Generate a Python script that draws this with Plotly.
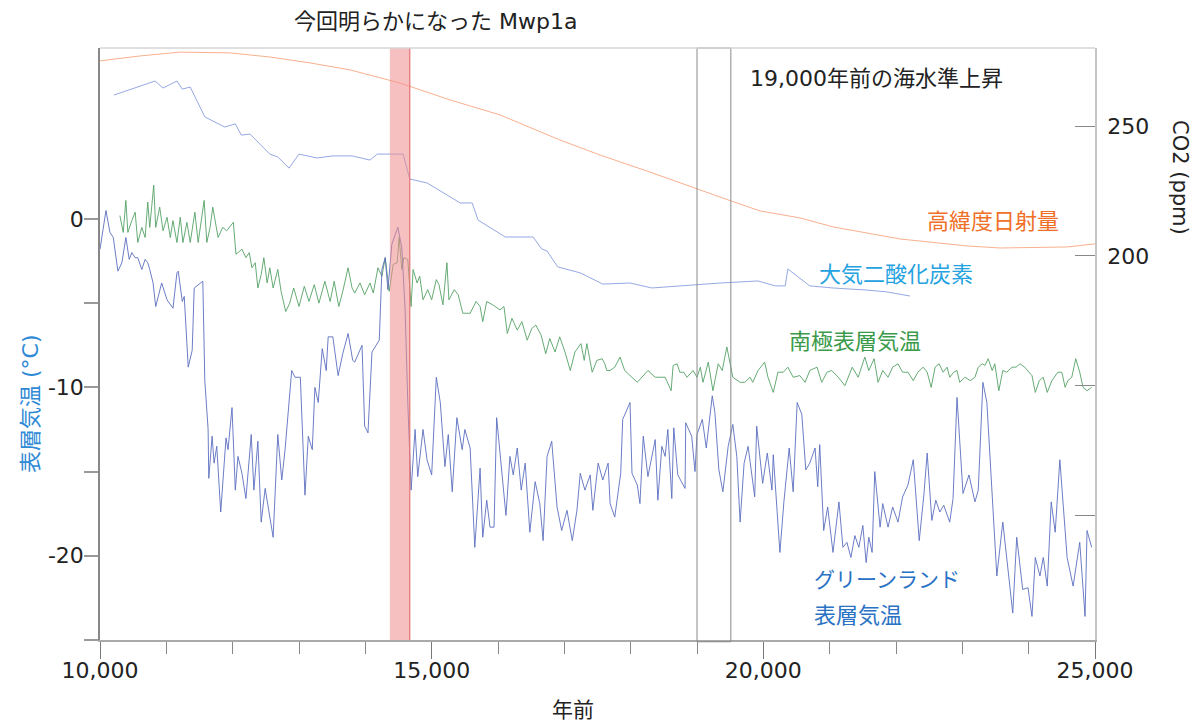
import plotly.graph_objects as go

# ---------------- data ----------------
# Greenland surface temperature (deg C) vs years before present
gl_year = [10000,10030,10090,10150,10200,10270,10330,10390,10440,10480,10530,10570,10630,10680,10720,10750,10800,10840,10930,11010,
           11100,11160,11180,11240,11270,11330,11390,11420,11550,11580,11630,11640,11690,11720,11760,11820,11900,11930,11990,12040,
           12080,12140,12200,12280,12320,12380,12430,12490,12530,12610,12680,12740,12790,12890,12940,13020,13090,13140,13200,13240,
           13290,13350,13410,13440,13510,13590,13660,13740,13810,13840,13950,13990,14040,14100,14210,14250,14300,14340,14400,14490,
           14550,14600,14640,14690,14750,14790,14870,14930,15000,15070,15130,15200,15250,15310,15380,15460,15500,15580,15650,15730,
           15770,15830,15880,15940,15980,16060,16120,16180,16230,16290,16350,16410,16480,16560,16630,16680,16740,16810,16890,16960,
           17040,17120,17190,17240,17310,17390,17430,17510,17580,17660,17690,17760,17810,17850,17880,17910,17990,18020,18100,18140,
           18190,18260,18370,18410,18470,18520,18560,18620,18650,18710,18820,18830,18920,18970,19000,19080,19140,19230,19270,19330,
           19390,19470,19540,19600,19650,19710,19770,19870,19900,19990,20060,20130,20150,20250,20310,20390,20450,20510,20580,20640,
           20700,20780,20820,20850,20910,20970,21050,21140,21200,21260,21320,21380,21440,21500,21550,21590,21640,21680,21760,21800,
           21880,21950,22030,22100,22180,22260,22350,22420,22470,22540,22600,22660,22720,22810,22860,22920,22960,23010,23100,23190,
           23240,23310,23370,23450,23520,23610,23670,23760,23820,23910,23990,24050,24100,24170,24220,24280,24340,24400,24470,24580,
           24670,24770,24850,24880,24950]
gl_temp = [-1.8,-1.1,0.5,-0.8,-1.1,-3.1,-2.6,-1.1,-2.4,-2.0,-2.3,-2.3,-3.0,-2.4,-2.6,-3.0,-3.8,-5.2,-3.8,-4.8,
           -5.3,-3.2,-3.1,-4.9,-4.6,-8.8,-7.8,-4.1,-3.7,-9.6,-12.5,-15.4,-12.9,-14.5,-13.5,-17.4,-13.0,-13.7,-11.2,-16.1,
           -14.1,-15.1,-16.6,-12.8,-16.1,-13.2,-18.0,-16.0,-16.9,-18.9,-12.8,-15.5,-13.7,-9.0,-9.4,-9.4,-16.4,-12.9,-13.7,-10.0,
           -10.9,-7.7,-9.0,-7.0,-7.0,-9.3,-8.0,-6.8,-8.4,-8.5,-7.5,-12.3,-12.7,-7.9,-7.2,-3.0,-2.3,-4.2,-1.5,-0.5,
           -1.7,-5.4,-10.9,-16.1,-12.5,-15.3,-12.5,-14.3,-15.2,-9.4,-10.9,-14.7,-12.8,-16.2,-11.8,-13.7,-12.5,-13.6,-19.5,-14.8,
           -18.9,-16.7,-18.3,-18.3,-11.8,-15.1,-17.6,-14.1,-15.2,-13.6,-16.1,-14.5,-18.6,-15.6,-16.9,-19.1,-14.1,-13.2,-17.1,-18.5,
           -17.3,-19.1,-17.3,-15.1,-16.1,-15.2,-17.3,-14.5,-15.5,-14.5,-16.9,-17.7,-16.1,-15.1,-11.9,-11.6,-10.9,-15.1,-15.8,-16.9,
           -12.9,-15.3,-13.1,-16.7,-13.5,-14.1,-12.5,-16.6,-12.4,-15.2,-16.0,-12.1,-12.9,-15.0,-12.8,-11.9,-13.6,-10.5,-11.5,-14.9,
           -16.2,-13.5,-12.2,-14.1,-18.0,-14.5,-13.5,-16.5,-12.3,-15.7,-13.9,-16.1,-14.0,-19.8,-16.8,-13.6,-16.2,-10.9,-11.6,-14.9,
           -14.5,-13.6,-15.9,-13.4,-18.5,-17.1,-19.8,-16.8,-19.5,-19.2,-20.1,-18.8,-19.5,-18.2,-20.4,-18.9,-19.8,-15.0,-18.3,-16.9,
           -18.3,-17.1,-18.0,-16.5,-15.8,-14.3,-19.1,-16.4,-13.9,-17.9,-16.7,-17.4,-17.0,-18.0,-16.6,-10.6,-13.3,-16.3,-15.2,-16.8,
           -16.1,-9.7,-10.9,-16.7,-21.2,-18.0,-20.1,-23.4,-18.9,-22.0,-21.9,-23.6,-20.1,-21.2,-20.1,-21.8,-16.8,-18.6,-14.3,-20.1,
           -21.8,-19.2,-23.6,-18.5,-19.5]

# Antarctic surface temperature (deg C)
an_year = [10300,10350,10390,10420,10480,10530,10570,10630,10680,10720,10750,10780,10810,10840,10900,10950,11010,11060,11100,11160,
           11210,11250,11310,11360,11430,11480,11520,11570,11610,11660,11700,11780,11850,11910,12010,12050,12140,12200,12250,12290,
           12340,12380,12430,12470,12520,12560,12610,12680,12730,12800,12860,12920,13000,13080,13150,13230,13300,13390,13470,13530,
           13600,13660,13740,13800,13840,13920,13990,14070,14120,14190,14250,14300,14360,14420,14480,14510,14550,14580,14640,14690,
           14720,14780,14820,14870,14940,15000,15070,15110,15170,15230,15260,15340,15400,15470,15580,15670,15730,15770,15830,15920,
           16030,16090,16140,16210,16290,16360,16440,16510,16570,16650,16720,16780,16860,16930,17010,17090,17160,17250,17300,17340,
           17420,17490,17570,17610,17640,17690,17760,17840,17910,18100,18260,18370,18520,18610,18640,18700,18740,18800,18850,18940,
           19000,19050,19090,19170,19240,19320,19380,19450,19500,19540,19650,19720,19800,19840,19920,20020,20070,20150,20220,20300,
           20370,20450,20550,20630,20700,20810,20880,20960,21030,21130,21230,21340,21430,21530,21590,21670,21730,21800,21880,21950,
           22030,22100,22180,22260,22330,22410,22470,22530,22590,22650,22710,22770,22810,22870,22920,22960,23040,23120,23190,23240,
           23300,23340,23390,23450,23490,23550,23610,23670,23750,23810,23870,23940,24050,24100,24160,24220,24280,24350,24440,24500,
           24550,24590,24650,24710,24770,24820,24880,24950]
an_temp = [0.2,-0.8,1.1,-0.8,-0.1,0.4,-1.4,-0.5,-1.1,1.0,-0.5,0.7,2.0,-0.5,0.7,-0.7,0.1,-1.1,-0.1,-1.4,
           0.1,-1.4,-0.2,-1.4,0.4,-1.4,-0.4,1.1,-1.4,-0.5,0.7,-1.1,-0.5,-0.7,-0.2,-2.1,-1.8,-2.3,-2.0,-2.9,
           -2.6,-4.1,-3.3,-2.3,-3.8,-2.9,-4.1,-3.0,-4.3,-5.5,-5.0,-4.1,-5.2,-4.0,-4.9,-3.9,-5.0,-3.7,-4.9,-3.7,
           -5.2,-4.3,-2.9,-4.1,-4.4,-3.8,-4.5,-3.8,-4.4,-2.9,-3.4,-2.3,-4.3,-2.7,-2.6,-1.1,-3.0,-2.3,-2.4,-5.2,
           -3.0,-3.8,-3.4,-4.8,-4.2,-4.8,-3.6,-3.9,-5.1,-2.6,-4.8,-4.2,-4.5,-5.6,-5.6,-4.9,-5.2,-6.1,-4.9,-5.1,
           -5.4,-5.2,-6.8,-5.9,-6.6,-6.1,-7.2,-6.5,-6.3,-6.9,-8.0,-7.1,-7.9,-7.0,-7.9,-9.0,-7.9,-7.4,-8.4,-7.4,
           -9.1,-8.4,-8.3,-8.6,-9.0,-9.0,-8.8,-8.2,-9.0,-9.7,-9.0,-9.4,-9.4,-10.2,-8.7,-8.6,-9.1,-9.1,-9.4,-9.0,
           -9.4,-8.8,-9.7,-8.5,-10.2,-8.6,-9.0,-7.6,-8.6,-9.4,-9.7,-9.7,-9.4,-9.7,-9.0,-8.5,-9.4,-10.3,-9.1,-9.1,
           -8.8,-9.4,-9.3,-9.7,-9.0,-8.8,-9.7,-9.1,-9.0,-9.4,-9.9,-8.8,-9.4,-8.2,-9.0,-8.3,-9.7,-9.0,-9.4,-8.8,
           -8.6,-9.1,-9.1,-9.6,-9.1,-8.8,-9.1,-10.0,-8.8,-8.6,-9.1,-8.8,-9.4,-9.1,-9.0,-9.7,-9.4,-9.6,-9.4,-8.8,
           -8.6,-8.7,-8.3,-9.0,-8.6,-10.2,-9.0,-9.1,-8.8,-8.8,-8.6,-8.8,-9.3,-10.3,-9.6,-9.4,-10.3,-9.6,-9.1,-9.1,
           -10.0,-9.6,-9.4,-8.3,-9.1,-10.0,-10.2,-10.0]

# Atmospheric CO2 (ppm)
co2_year = [10210,10830,10950,11160,11240,11360,11580,11880,12040,12130,12260,12560,12680,12850,13000,13270,13510,13800,14070,14180,
            14570,14670,14930,15430,15610,15700,16110,16530,16660,16740,16900,17240,17580,17990,18320,18850,19350,19920,20180,20330,
            20370,20700,21050,21560,21860,22210]
co2_ppm = [261.9,267.3,264.6,267.3,264.2,265.0,253.5,249.6,250.8,246.5,246.9,239.2,238.1,233.8,239.2,237.7,238.5,238.5,236.9,239.2,
           239.2,229.6,228.1,220.4,220.4,213.8,207.3,207.3,202.7,201.9,195.8,193.5,189.2,189.6,187.7,188.8,189.6,190.4,188.5,188.5,
           195.0,188.5,187.7,186.9,186.2,184.6]

# High-latitude summer insolation (W/m2, drawn on its own hidden scale)
ins_year = [10000,10600,11210,11960,12560,13170,13770,14370,14520,15280,16030,16930,17540,18290,19000,19510,19950,20550,21050,21560,
            22060,23070,23570,24580,25000]
ins_val = [525.0,526.9,528.4,528.1,526.5,524.2,521.5,517.6,516.4,509.8,504.0,494.3,488.4,481.8,475.2,470.6,466.7,464.0,460.5,458.1,
           455.8,453.1,452.3,452.7,453.9]

mwp1a_span = [14370, 14670]
sea_level_span = [19000, 19510]

x_major = [10000, 15000, 20000, 25000]
x_major_text = ["10,000", "15,000", "20,000", "25,000"]
y_ticks = [-25, -20, -15, -10, -5, 0]
y_tick_text = ["", "-20", "", "-10", "", "0"]
co2_ticks = [100, 150, 200, 250]
co2_tick_text = ["", "", "200", "250"]

FONT = "DejaVu Sans, Noto Sans CJK JP"

fig = go.Figure()
fig.add_trace(go.Scatter(x=ins_year, y=ins_val, yaxis="y3", mode="lines",
                         line=dict(color="#f9b08e", width=1), showlegend=False))
fig.add_trace(go.Scatter(x=co2_year, y=co2_ppm, yaxis="y2", mode="lines",
                         line=dict(color="#95a8e2", width=1), showlegend=False))
fig.add_trace(go.Scatter(x=an_year, y=an_temp, mode="lines",
                         line=dict(color="#55a265", width=0.9), showlegend=False))
fig.add_trace(go.Scatter(x=gl_year, y=gl_temp, mode="lines",
                         line=dict(color="#5b6ec0", width=0.9), showlegend=False))

# Mwp1a band
fig.add_shape(type="rect", xref="x", yref="paper", x0=mwp1a_span[0], x1=mwp1a_span[1], y0=0, y1=1,
              fillcolor="rgba(240,140,140,0.55)", line=dict(width=0), layer="above")
fig.add_shape(type="line", xref="x", yref="paper", x0=mwp1a_span[1], x1=mwp1a_span[1], y0=0, y1=1,
              line=dict(color="#e57373", width=1.2), layer="above")
# 19,000 yr box
fig.add_shape(type="rect", xref="x", yref="paper", x0=sea_level_span[0], x1=sea_level_span[1], y0=-0.003, y1=1,
              line=dict(color="#8a8a8a", width=1), layer="above")
# top frame line
fig.add_shape(type="line", xref="paper", yref="paper", x0=0, x1=1, y0=1, y1=1,
              line=dict(color="#d4d4d4", width=1.5))

ann = []
def add_text(text, x, y, color, size=22, xanchor="center", angle=0):
    ann.append(dict(text=text, x=x, y=y, xref="paper", yref="paper", showarrow=False,
                    xanchor=xanchor, yanchor="middle", textangle=angle,
                    font=dict(family=FONT, size=size, color=color)))

add_text("今回明らかになった Mwp1a", 0.3367, 1.044, "#222222", 22)
add_text("19,000年前の海水準上昇", 0.651, 0.9493, "#222222", 22, "left")
add_text("高緯度日射量", 0.8975, 0.7061, "#f07028", 22)
add_text("大気二酸化炭素", 0.80, 0.6166, "#25a2e0", 22)
add_text("南極表層気温", 0.7588, 0.5034, "#3a9a4a", 22)
add_text("グリーンランド", 0.7156, 0.1014, "#2a72c4", 21, "left")
add_text("表層気温", 0.7156, 0.0422, "#2a72c4", 22, "left")
add_text("表層気温 (°C)", -0.0704, 0.4003, "#2f8ad6", 22, angle=-90)
add_text("CO2 (ppm)", 1.0854, 0.7804, "#222222", 21, angle=90)
add_text("年前", 0.4754, -0.1182, "#222222", 21)

# page body has an 8px margin: shrink figure so the plot area lands at 100..1095 x 48..640
fig.update_layout(
    width=1191, height=716,
    margin=dict(l=92, r=104, t=40, b=84),
    paper_bgcolor="white", plot_bgcolor="white",
    font=dict(family=FONT, size=22, color="#222222"),
    showlegend=False,
    annotations=ann,
    xaxis=dict(range=[10000, 25000], tickvals=x_major, ticktext=x_major_text,
               ticks="outside", ticklen=17, tickcolor="#777", tickwidth=1.2,
               ticklabelstandoff=-7,
               minor=dict(dtick=1000, tick0=10000, ticks="outside", ticklen=12, tickcolor="#888", tickwidth=1.2),
               showline=True, linecolor="#aaaaaa", linewidth=1.5, showgrid=False, zeroline=False,
               tickfont=dict(size=22, color="#222")),
    yaxis=dict(range=[-25, 10.15], tickvals=y_ticks, ticktext=y_tick_text,
               ticks="outside", ticklen=14, tickcolor="#999", tickwidth=1.5,
               ticklabelstandoff=-4,
               showline=True, linecolor="#888888", linewidth=1.5, showgrid=False, zeroline=False,
               tickfont=dict(size=22, color="#222")),
    yaxis2=dict(range=[52.3, 280], overlaying="y", side="right", tickvals=co2_ticks, ticktext=co2_tick_text,
                ticks="inside", ticklen=20, tickcolor="#888", tickwidth=1.2,
                ticklabelstandoff=6,
                showline=True, linecolor="#c4c4c4", linewidth=1.5, showgrid=False, zeroline=False,
                tickfont=dict(size=22, color="#222")),
    yaxis3=dict(range=[300, 530], overlaying="y", visible=False),
)

fig.write_html("out.html")
